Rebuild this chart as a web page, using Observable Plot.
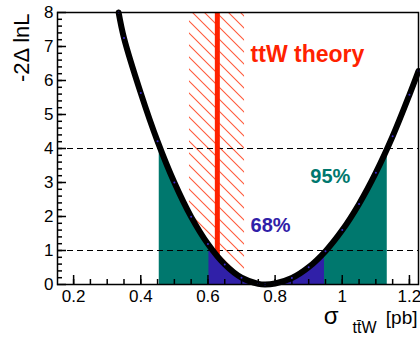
<!DOCTYPE html>
<html><head><meta charset="utf-8">
<script src="https://cdn.jsdelivr.net/npm/d3@7"></script>
<script src="https://cdn.jsdelivr.net/npm/@observablehq/plot@0.6"></script>
<style>body{margin:0;background:#fff}</style>
</head><body><div id="chart"></div>
<script>
// -2 Delta lnL scan vs sigma(ttW) [pb]
const sigma = [0.334, 0.35, 0.40, 0.45, 0.50, 0.55, 0.60, 0.65, 0.70, 0.75, 0.77, 0.80, 0.85, 0.90, 0.95, 1.00, 1.05, 1.10, 1.15, 1.20, 1.227];
const nll   = [8.00, 7.25, 5.63, 4.21, 3.00, 1.99, 1.19, 0.59, 0.20, 0.02, 0.00, 0.03, 0.19, 0.51, 0.98, 1.60, 2.37, 3.29, 4.36, 5.58, 6.28];
const levels = [1, 4];              // 68% and 95% thresholds
const ci95 = [0.455, 1.134];
const ci68 = [0.603, 0.947];
const theoryCenter = [0.628];
const theoryBand = [0.545, 0.709];
const hatchX = [0.545, 0.60, 0.628, 0.65, 0.709];
const hatchY = [2.08, 1.19, 0.85, 0.59, 0.15];
const xMajor = [0.2, 0.4, 0.6, 0.8, 1, 1.2];
const xMinor = d3.range(0.2, 1.226, 0.05);
const yMajor = [0, 1, 2, 3, 4, 5, 6, 7, 8];
const yMinor = d3.range(0.2, 7.9, 0.2);
const labelTheory = ["ttW theory"];
const label95 = ["95%"];
const label68 = ["68%"];
const yTitle = ["-2\u0394 lnL"];
const xTitle = ["\u03c3", "tt\u0304W", "[pb]"];

const curve = sigma.map((x, i) => ({x, y: nll[i]}));
const region = ([lo, hi], level) => [{x: lo, y: level}, ...curve.filter(d => d.x > lo && d.x < hi), {x: hi, y: level}];
const hatch = hatchX.map((x, i) => ({x, y1: hatchY[i], y2: 8}));
const theoryLine = theoryCenter.map((x) => ({x, y1: hatchY[hatchX.indexOf(x)], y2: 8}));

const TEAL = "#00786e", BLUE = "#3020a8", RED = "#ff2200";
const font = "'Liberation Sans', Arial, Helvetica, sans-serif";
const W = 420, H = 341, ML = 57, MR = 2, MT = 12, MB = 57;
const FW = W - ML - MR, FH = H - MT - MB;

const defs = () => {
  const d = d3.create("svg:defs");
  const p = d.append("pattern").attr("id", "hatch").attr("patternUnits", "userSpaceOnUse")
    .attr("width", 12).attr("height", 12);
  p.append("path").attr("d", "M-3,-3L15,15M-3,9L3,15M9,-3L15,3")
    .attr("stroke", "#ff5a3c").attr("stroke-width", 1.1).attr("fill", "none");
  return d.node();
};

const plot = Plot.plot({
  width: W, height: H,
  marginLeft: ML, marginRight: MR, marginTop: MT, marginBottom: MB,
  style: {fontFamily: font, color: "black", background: "white", overflow: "visible"},
  x: {domain: [0.152, 1.227]},
  y: {domain: [0, 8]},
  marks: [
    defs,
    Plot.areaY(region(ci95, levels[1]), {x: "x", y: "y", fill: TEAL, curve: "catmull-rom"}),
    Plot.areaY(region(ci68, levels[0]), {x: "x", y: "y", fill: BLUE, curve: "catmull-rom"}),
    Plot.areaY(hatch, {x: "x", y1: "y1", y2: "y2", fill: "url(#hatch)", curve: "catmull-rom"}),
    Plot.ruleY(levels, {stroke: "black", strokeWidth: 1.1, strokeDasharray: "6,4"}),
    Plot.ruleX(theoryLine, {x: "x", y1: "y1", y2: "y2", stroke: RED, strokeWidth: 5}),
    Plot.line(curve, {x: "x", y: "y", stroke: "black", strokeWidth: 6, curve: "catmull-rom"}),
    Plot.dot(curve, {x: "x", y: "y", r: 1, fill: "#3a2ad0"}),
    // inward ticks (ROOT style)
    Plot.ruleX(xMinor, {x: d => d, insetTop: FH - 5, stroke: "black", strokeWidth: 1.5}),
    Plot.ruleX(xMajor, {x: d => d, insetTop: FH - 9, stroke: "black", strokeWidth: 1.5}),
    Plot.ruleY(yMinor, {y: d => d, insetRight: FW - 5, stroke: "black", strokeWidth: 1.5}),
    Plot.ruleY(yMajor, {y: d => d, insetRight: FW - 9, stroke: "black", strokeWidth: 1.5}),
    Plot.axisX(xMajor, {anchor: "bottom", tickSize: 0, tickPadding: 5, fontSize: 17, label: null, tickFormat: d => String(d)}),
    Plot.axisY(yMajor, {anchor: "left", tickSize: 0, tickPadding: 4, fontSize: 17, label: null, tickFormat: d => String(d)}),
    Plot.frame({stroke: "black", strokeWidth: 1.5}),
    Plot.text(labelTheory, {x: 0.727, y: 6.53, text: d => d, textAnchor: "start", lineAnchor: "bottom", fill: RED, fontSize: 23, fontWeight: "bold"}),
    Plot.text(label95, {x: 0.905, y: 3.0, text: d => d, textAnchor: "start", lineAnchor: "bottom", fill: TEAL, fontSize: 20, fontWeight: "bold"}),
    Plot.text(label68, {x: 0.727, y: 1.53, text: d => d, textAnchor: "start", lineAnchor: "bottom", fill: BLUE, fontSize: 20, fontWeight: "bold"}),
    Plot.text(yTitle, {frameAnchor: "top-left", text: d => d, dx: -29, dy: 1, rotate: -90, textAnchor: "end", lineAnchor: "bottom", fontSize: 22, fill: "black"}),
    Plot.text([xTitle[0]], {frameAnchor: "bottom-right", text: d => d, dx: -80, dy: 39, textAnchor: "end", lineAnchor: "bottom", fontSize: 24, fill: "black"}),
    Plot.text([xTitle[1]], {frameAnchor: "bottom-right", text: d => d, dx: -42, dy: 48, textAnchor: "end", lineAnchor: "bottom", fontSize: 16, fill: "black"}),
    Plot.text([xTitle[2]], {frameAnchor: "bottom-right", text: d => d, dx: -1, dy: 39, textAnchor: "end", lineAnchor: "bottom", fontSize: 19, fill: "black"})
  ]
});
document.getElementById("chart").appendChild(plot);
</script>
</body></html>
